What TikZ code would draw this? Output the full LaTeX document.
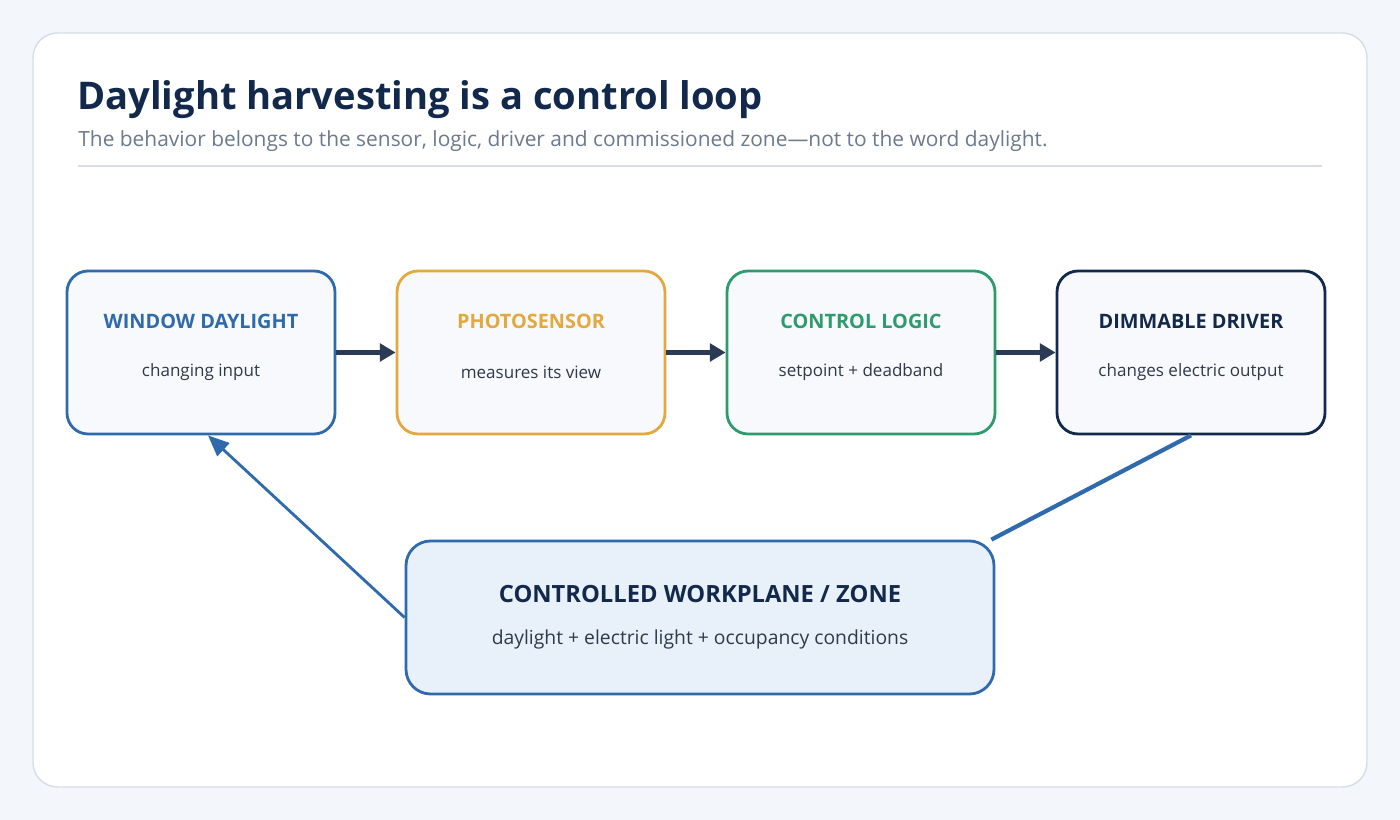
\documentclass[tikz,border=0pt]{standalone}
\usepackage{fontspec}
\setmainfont{Open Sans}
\usetikzlibrary{arrows.meta,positioning}
\definecolor{bgcol}{HTML}{F3F6FA}
\definecolor{cardline}{HTML}{D5DEE8}
\definecolor{navy}{HTML}{13294B}
\definecolor{subgray}{HTML}{6B7A8D}
\definecolor{bodytxt}{HTML}{2E3A4B}
\definecolor{blu}{HTML}{2F6AAD}
\definecolor{orng}{HTML}{E3A83E}
\definecolor{grn}{HTML}{2E9A6E}
\definecolor{boxfill}{HTML}{F7F9FC}
\definecolor{zonefill}{HTML}{E8F1FA}
\definecolor{arrowcol}{HTML}{2B3A55}
\tikzset{
  stage/.style={draw=#1, line width=1.6pt, fill=boxfill, rounded corners=12pt,
    minimum width=268\px, minimum height=163\px, inner sep=0pt},
  ttl/.style={font=\bfseries\fontsize{11.3}{13}\selectfont, text=#1},
  sub/.style={font=\fontsize{9.7}{12}\selectfont, text=bodytxt},
  flow/.style={-{Triangle[length=9pt,width=10pt]}, line width=2.6pt, draw=arrowcol},
  fback/.style={line width=1.6pt, draw=blu}
}
\newlength{\px}
\setlength{\px}{0.02cm}
\begin{document}
\begin{tikzpicture}[x=0.02cm,y=-0.02cm]
  \fill[bgcol] (0,0) rectangle (1400,820);
  \useasboundingbox (0,0) rectangle (1400,820);
  \filldraw[fill=white, draw=cardline, line width=0.8pt, rounded corners=14pt] (33,33) rectangle (1367,787);

  \node[anchor=base west, inner sep=0pt, text=navy, font=\bfseries\fontsize{21.7}{25}\selectfont] (title) at (77,110) {Daylight harvesting is a control loop};
  \node[anchor=base west, inner sep=0pt, text=subgray, font=\fontsize{11.9}{14}\selectfont] (subtitle) at (78,147) {The behavior belongs to the sensor, logic, driver and commissioned zone—not to the word daylight.};
  \draw[cardline, line width=0.8pt] (78,166) -- (1322,166);

  % stages of the loop
  \node[stage=blu] (win) at (201,352.5) {};
  \node[stage=orng] (sens) at (531,352.5) {};
  \node[stage=grn] (logic) at (861,352.5) {};
  \node[stage=navy] (drv) at (1191,352.5) {};
  \node[ttl=blu] at (201,321) {WINDOW DAYLIGHT};
  \node[sub] at (201,372) {changing input};
  \node[ttl=orng] at (531,321) {PHOTOSENSOR};
  \node[sub] at (531,372) {measures its view};
  \node[ttl=grn] at (861,321) {CONTROL LOGIC};
  \node[sub] at (861,372) {setpoint + deadband};
  \node[ttl=navy] at (1191,321) {DIMMABLE DRIVER};
  \node[sub] at (1191,372) {changes electric output};

  \node[draw=blu, line width=1.6pt, fill=zonefill, rounded corners=14pt,
    minimum width=588\px, minimum height=153\px, inner sep=0pt] (zone) at (700,617.5) {};
  \node[text=navy, font=\bfseries\fontsize{13.5}{16}\selectfont] at (700,594) {CONTROLLED WORKPLANE / ZONE};
  \node[sub, font=\fontsize{11}{13}\selectfont] at (700,639) {daylight + electric light + occupancy conditions};

  \draw[flow] (win) -- (sens);
  \draw[flow] (sens) -- (logic);
  \draw[flow] (logic) -- (drv);
  \draw[fback, line width=2.4pt] (drv.south) -- ([xshift=-4\px]zone.north east);
  \draw[fback, -{Triangle[length=12pt,width=10pt]}] (zone.west) -- ([xshift=7\px]win.south);
\end{tikzpicture}
\end{document}
